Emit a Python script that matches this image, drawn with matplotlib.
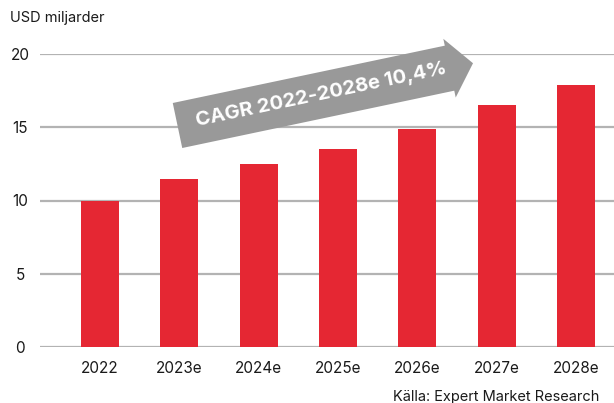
import numpy as np
import matplotlib
matplotlib.use("Agg")
import matplotlib.pyplot as plt
from matplotlib.patches import Polygon

plt.rcParams['font.family'] = ['Inter', 'DejaVu Sans']

categories = ["2022", "2023e", "2024e", "2025e", "2026e", "2027e", "2028e"]
values = [10.0, 11.5, 12.5, 13.5, 14.9, 16.5, 17.9]
yticks = [0, 5, 10, 15, 20]
cagr_label = "CAGR 2022-2028e 10,4%"
unit_label = "USD miljarder"
source_label = "Källa: Expert Market Research"

W, H = 614, 403
fig = plt.figure(figsize=(W / 100, H / 100), dpi=100)
ax = fig.add_axes([40 / W, 1 - 347 / H, 1 - 40 / W, (347 - 54) / H])

x = np.arange(len(categories))
ax.bar(x, values, width=0.48, color="#e52733", zorder=3)
ax.set_xlim(-0.757, 6.48)
ax.set_ylim(0, 20)
ax.set_yticks(yticks)
ax.set_yticklabels([str(t) for t in yticks])
ax.set_xticks(x)
ax.set_xticklabels(categories)
for t in ax.get_yticklabels():
    t.set_horizontalalignment("center")
ax.tick_params(axis="y", length=0, pad=14.4, labelsize=11, colors="#1a1a1a")
ax.tick_params(axis="x", length=0, pad=10, labelsize=11, colors="#1a1a1a")
for t in yticks:
    ax.axhline(t, color="#b3b3b3", lw=1.6, zorder=1)
for s in ax.spines.values():
    s.set_visible(False)

# CAGR arrow in pixel coordinates (figure space)
def px(xp, yp):
    return (xp / W, 1 - yp / H)

x0, y0 = 177.5, 125.5
ang = np.deg2rad(11.9)
d = np.array([np.cos(ang), -np.sin(ang)])  # along (pixel coords, y down)
n = np.array([np.sin(ang), np.cos(ang)])   # perpendicular (downwards)
L_body, L_tip = 278.0, 302.0
hw_body, hw_head = 23.0, 30.0
p0 = np.array([x0, y0])
pts = [
    p0 - n * hw_body,
    p0 + d * L_body - n * hw_body,
    p0 + d * L_body - n * hw_head,
    p0 + d * L_tip,
    p0 + d * L_body + n * hw_head,
    p0 + d * L_body + n * hw_body,
    p0 + n * hw_body,
]
poly = Polygon([px(*p) for p in pts], closed=True, transform=fig.transFigure,
               facecolor="#999999", edgecolor="none", zorder=5)
fig.patches.append(poly)
tc = p0 + d * 147
fig.text(*px(*tc), cagr_label, rotation=11.9, rotation_mode="anchor",
         ha="center", va="center", color="white", fontsize=14.5, fontweight="bold", zorder=6)

fig.text(10 / W, 1 - 18 / H, unit_label, ha="left", va="center", fontsize=10.5, color="#1a1a1a")
fig.text(393 / W, 1 - 397 / H, source_label, ha="left", va="center", fontsize=10.5, color="#1a1a1a")

fig.savefig("out.png", dpi=100)
